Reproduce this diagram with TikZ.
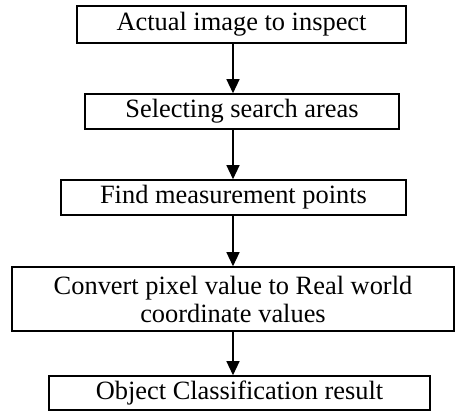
\documentclass[tikz,border=0pt]{standalone}
\usepackage{fontspec}
\setmainfont{Liberation Serif}
\usetikzlibrary{arrows.meta}
\begin{document}
\begin{tikzpicture}[x=1pt,y=1pt,
  box/.style={draw=black,line width=1.6pt,rectangle,inner sep=0pt,align=center,
    font=\fontsize{26.4}{28}\selectfont},
  arr/.style={draw=black,line width=1.4pt,-{Triangle[width=13pt,length=14pt]}}]
\useasboundingbox (0,0) rectangle (456,-412);
\node[box,minimum width=329pt,minimum height=37pt] (b1) at (241.5,-24.5) {Actual image to inspect};
\node[box,minimum width=314pt,minimum height=35pt] (b2) at (242,-111.5) {Selecting search areas};
\node[box,minimum width=345pt,minimum height=35pt] (b3) at (233.5,-197.5) {Find measurement points};
\node[box,minimum width=442pt,minimum height=64pt] (b4) at (233,-299) {Convert pixel value to Real world\\coordinate values};
\node[box,minimum width=381pt,minimum height=34pt] (b5) at (239.5,-393) {Object Classification result};
\coordinate (ax) at (233,0);
\draw[arr] (b1.south -| ax) -- (b2.north -| ax);
\draw[arr] (b2.south -| ax) -- (b3.north -| ax);
\draw[arr] (b3.south -| ax) -- (b4.north -| ax);
\draw[arr] (b4.south -| ax) -- (b5.north -| ax);
\end{tikzpicture}
\end{document}
